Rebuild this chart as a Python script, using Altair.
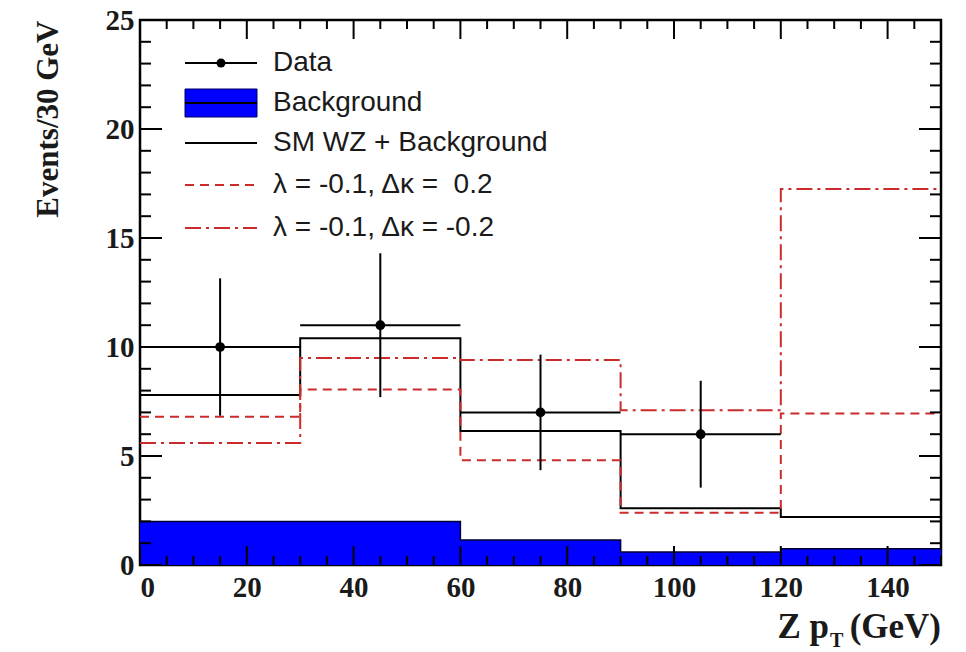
import altair as alt
import pandas as pd

# ---- data ----
edges = [0, 30, 60, 90, 120, 150]
bin_lo = [0, 30, 60, 90]
bin_hi = [30, 60, 90, 120]
centers = [15, 45, 75, 105]
data_vals = [10, 11, 7, 6]
data_err_lo = [6.85, 7.7, 4.35, 3.55]
data_err_hi = [13.15, 14.3, 9.65, 8.45]
background = [2.0, 2.0, 1.15, 0.6, 0.75]
sm_wz_bkg = [7.8, 10.4, 6.15, 2.6, 2.2]
lam_dk_pos = [6.8, 8.05, 4.8, 2.4, 6.95]
lam_dk_neg = [5.6, 9.5, 9.4, 7.1, 17.25]

x_labels = [0, 20, 40, 60, 80, 100, 120, 140]
x_minor = [v for v in range(0, 151, 5) if v % 20 != 0]
y_labels = [0, 5, 10, 15, 20, 25]
y_minor = [v for v in range(0, 26) if v % 5 != 0]

legend_labels = ["Data", "Background", "SM WZ + Background",
                 "λ = -0.1, Δκ =\u00a0\u00a00.2", "λ = -0.1, Δκ = -0.2"]

W, H = 801, 545
RED = "#cc2b2b"
INK = "#1a1a1a"
SERIF = "Liberation Serif"
SANS = "Liberation Sans"


def step_df(vals):
    return pd.DataFrame({"x": edges, "y": list(vals) + [vals[-1]]})


xs = alt.Scale(domain=[0, 150], nice=False, zero=False)
ys = alt.Scale(domain=[0, 25], nice=False)

X = alt.X("x:Q", scale=xs,
          axis=alt.Axis(values=x_labels, ticks=False, domain=False, grid=False,
                        labelFont=SERIF, labelFontWeight="bold", labelFontSize=29,
                        labelColor=INK, labelPadding=8, title=None))
Y = alt.Y("y:Q", scale=ys,
          axis=alt.Axis(values=y_labels, ticks=False, domain=False, grid=False,
                        labelFont=SERIF, labelFontWeight="bold", labelFontSize=29,
                        labelColor=INK, labelPadding=6,
                        title="Events/30 GeV", titleFont=SERIF, titleFontWeight="bold",
                        titleFontSize=31, titleColor=INK, titleAngle=270,
                        titleX=-92, titleY=0, titleAlign="right", titleBaseline="middle"))

bkg_area = alt.Chart(step_df(background)).mark_area(
    interpolate="step-after", color="#0000ff", opacity=1).encode(x=X, y=Y)
bkg_line = alt.Chart(step_df(background)).mark_line(
    interpolate="step-after", color="#000033", strokeWidth=1.5).encode(x="x:Q", y="y:Q")
sm_line = alt.Chart(step_df(sm_wz_bkg)).mark_line(
    interpolate="step-after", color="black", strokeWidth=2).encode(x="x:Q", y="y:Q")
pos_line = alt.Chart(step_df(lam_dk_pos)).mark_line(
    interpolate="step-after", color=RED, strokeWidth=2, strokeDash=[9, 6]).encode(x="x:Q", y="y:Q")
neg_line = alt.Chart(step_df(lam_dk_neg)).mark_line(
    interpolate="step-after", color=RED, strokeWidth=2, strokeDash=[16, 5, 3, 5]).encode(x="x:Q", y="y:Q")

pts = pd.DataFrame({"c": centers, "lo": bin_lo, "hi": bin_hi, "v": data_vals,
                    "elo": data_err_lo, "ehi": data_err_hi})
xerr = alt.Chart(pts).mark_rule(color="black", strokeWidth=2).encode(
    x="lo:Q", x2="hi:Q", y="v:Q")
yerr = alt.Chart(pts).mark_rule(color="black", strokeWidth=2).encode(
    x="c:Q", y="elo:Q", y2="ehi:Q")
dots = alt.Chart(pts).mark_point(filled=True, shape="circle", size=95, color="black", opacity=1).encode(
    x="c:Q", y="v:Q")


# ---- inward ticks (ROOT style) ----
def yticks(vals, length):
    d = pd.DataFrame({"t": vals})
    left = alt.Chart(d).mark_rule(color="black", strokeWidth=2).encode(
        y="t:Q", x=alt.value(0), x2=alt.value(length))
    right = alt.Chart(d).mark_rule(color="black", strokeWidth=2).encode(
        y="t:Q", x=alt.value(W - length), x2=alt.value(W))
    return [left, right]


def xticks(vals, length):
    d = pd.DataFrame({"t": vals})
    bottom = alt.Chart(d).mark_rule(color="black", strokeWidth=2).encode(
        x="t:Q", y=alt.value(H), y2=alt.value(H - length))
    top = alt.Chart(d).mark_rule(color="black", strokeWidth=2).encode(
        x="t:Q", y=alt.value(0), y2=alt.value(length))
    return [bottom, top]


ticks = yticks(y_labels, 22) + yticks(y_minor, 11) + xticks(x_labels, 19) + xticks(x_minor, 9)

# ---- legend ----
one = alt.Data(values=[{}])
LX0, LX1, LTX = 45, 117, 133
rows = [43, 83, 123, 165, 208]

leg = []
leg.append(alt.Chart(one).mark_rule(color="black", strokeWidth=2).encode(
    x=alt.value(LX0), x2=alt.value(LX1), y=alt.value(rows[0])))
leg.append(alt.Chart(one).mark_point(filled=True, shape="circle", size=80, color="black", opacity=1).encode(
    x=alt.value((LX0 + LX1) / 2), y=alt.value(rows[0])))
leg.append(alt.Chart(one).mark_rect(color="#0000ff", stroke="#000066", strokeWidth=1).encode(
    x=alt.value(LX0), x2=alt.value(LX1), y=alt.value(rows[1] - 14), y2=alt.value(rows[1] + 14)))
leg.append(alt.Chart(one).mark_rule(color="black", strokeWidth=2).encode(
    x=alt.value(LX0), x2=alt.value(LX1), y=alt.value(rows[1])))
leg.append(alt.Chart(one).mark_rule(color="black", strokeWidth=2).encode(
    x=alt.value(LX0), x2=alt.value(LX1), y=alt.value(rows[2])))
leg.append(alt.Chart(one).mark_rule(color=RED, strokeWidth=2, strokeDash=[9, 6]).encode(
    x=alt.value(LX0), x2=alt.value(LX1), y=alt.value(rows[3])))
leg.append(alt.Chart(one).mark_rule(color=RED, strokeWidth=2, strokeDash=[16, 5, 3, 5]).encode(
    x=alt.value(LX0), x2=alt.value(LX1), y=alt.value(rows[4])))
for lab, ry in zip(legend_labels, rows):
    leg.append(alt.Chart(one).mark_text(font=SANS, fontSize=28, color=INK, align="left",
                                        baseline="middle").encode(
        x=alt.value(LTX), y=alt.value(ry), text=alt.value(lab)))

# ---- x axis title "Z p_T (GeV)" ----
xt = [
    alt.Chart(one).mark_text(font=SERIF, fontWeight="bold", fontSize=35, color=INK,
                             align="right", baseline="alphabetic").encode(
        x=alt.value(W), y=alt.value(H + 73), text=alt.value("(GeV)")),
    alt.Chart(one).mark_text(font=SERIF, fontWeight="bold", fontSize=35, color=INK,
                             align="right", baseline="alphabetic").encode(
        x=alt.value(W - 112), y=alt.value(H + 73), text=alt.value("Z p")),
    alt.Chart(one).mark_text(font=SERIF, fontWeight="bold", fontSize=20, color=INK,
                             align="left", baseline="alphabetic").encode(
        x=alt.value(W - 111), y=alt.value(H + 82), text=alt.value("T")),
]

chart = alt.layer(bkg_area, bkg_line, sm_line, pos_line, neg_line, xerr, yerr, dots,
                  *ticks, *leg, *xt).properties(
    width=W, height=H,
    autosize=alt.AutoSizeParams(type="none"),
    padding={"left": 140, "top": 20, "right": 25, "bottom": 87},
    background="white",
).configure_view(stroke="black", strokeWidth=2.5)

chart.save("out.html", embed_options={"renderer": "svg", "actions": False})
